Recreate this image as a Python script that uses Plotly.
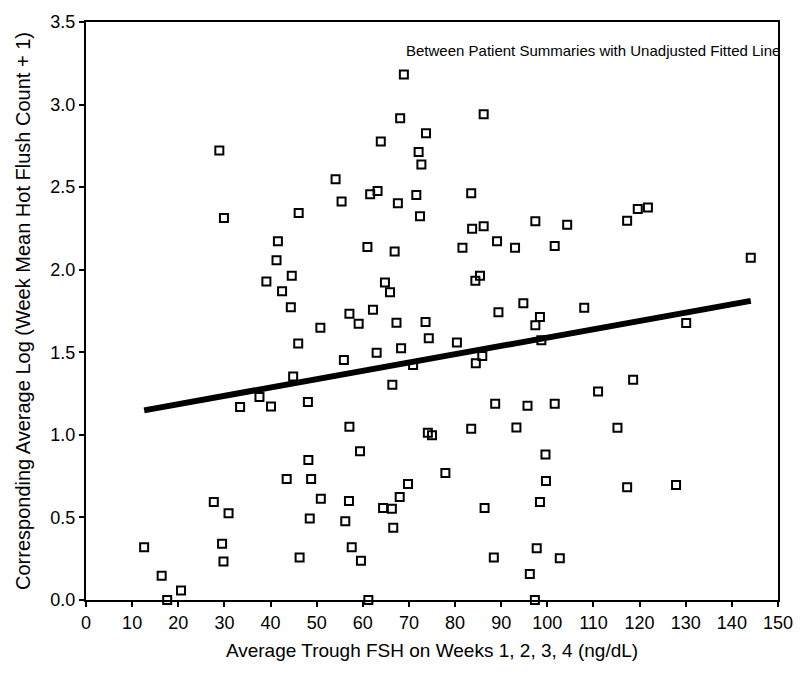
import plotly.graph_objects as go

# Per-patient summaries: average trough FSH (ng/dL) vs. average log hot flush count
fsh = [
    12.6, 16.4, 17.6, 20.6, 27.7, 29.5, 29.8, 30.9, 28.9, 29.9,
    33.4, 37.6, 40.1, 39.1, 41.6, 41.3, 42.5, 44.6, 44.4, 44.9,
    46.0, 46.1, 43.5, 46.3, 48.1, 48.2, 48.8, 48.5, 50.8, 50.9,
    54.1, 55.4, 55.9, 56.2, 57.0, 57.1, 57.1, 57.6, 59.1, 59.4,
    59.6, 61.6, 63.2, 61.0, 62.2, 63.0, 63.9, 64.8, 65.9, 66.9,
    67.6, 68.1, 68.9, 67.3, 68.3, 66.4, 64.4, 66.3, 66.6, 68.0,
    69.8, 61.2, 71.6, 72.1, 72.7, 72.4, 73.7, 73.6, 74.3, 74.1,
    75.0, 70.9, 77.9, 80.4, 81.6, 83.5, 83.7, 86.2, 84.4, 85.4,
    86.2, 84.5, 85.9, 83.5, 86.4, 88.7, 88.4, 89.1, 89.4, 93.0,
    93.3, 94.8, 95.7, 96.2, 97.3, 97.4, 98.4, 97.4, 98.7, 98.4,
    97.7, 99.6, 99.7, 101.6, 101.6, 102.7, 104.3, 108.0, 111.0, 115.2,
    117.3, 117.3, 119.6, 121.8, 118.6, 127.9, 130.1, 144.1,
]
log_flush = [
    0.320, 0.147, 0.000, 0.057, 0.593, 0.341, 0.233, 0.525, 2.722, 2.313,
    1.169, 1.229, 1.171, 1.929, 2.173, 2.057, 1.869, 1.963, 1.773, 1.353,
    1.553, 2.343, 0.733, 0.257, 1.199, 0.847, 0.733, 0.493, 1.649, 0.613,
    2.548, 2.413, 1.453, 0.477, 0.599, 1.049, 1.733, 0.319, 1.673, 0.901,
    0.237, 2.457, 2.477, 2.137, 1.758, 1.497, 2.776, 1.923, 1.863, 2.110,
    2.403, 2.917, 3.182, 1.679, 1.525, 1.303, 0.557, 0.553, 0.437, 0.623,
    0.703, 0.000, 2.453, 2.713, 2.637, 2.323, 2.827, 1.683, 1.585, 1.013,
    0.997, 1.423, 0.769, 1.559, 2.133, 2.463, 2.248, 2.263, 1.933, 1.963,
    2.942, 1.433, 1.477, 1.037, 0.557, 1.189, 0.257, 2.173, 1.743, 2.133,
    1.045, 1.797, 1.177, 0.157, 0.000, 2.293, 1.713, 1.663, 1.573, 0.593,
    0.313, 0.881, 0.721, 2.143, 1.189, 0.253, 2.273, 1.770, 1.263, 1.043,
    0.683, 2.297, 2.367, 2.377, 1.333, 0.697, 1.677, 2.073,
]

# Unadjusted fitted line: log_flush = intercept + slope * fsh
fit_intercept = 1.085
fit_slope = 0.00504
fit_x = [min(fsh), max(fsh)]
fit_y = [fit_intercept + fit_slope * v for v in fit_x]

x_ticks = list(range(0, 151, 10))
y_ticks = [0.0, 0.5, 1.0, 1.5, 2.0, 2.5, 3.0, 3.5]

FONT = "Liberation Sans, Arial, sans-serif"

fig = go.Figure()
fig.add_trace(go.Scatter(
    x=fsh, y=log_flush, mode="markers",
    marker=dict(symbol="square-open", size=8, color="black", line=dict(width=2, color="black")),
    cliponaxis=False, showlegend=False,
))
fig.add_trace(go.Scatter(
    x=fit_x, y=fit_y, mode="lines",
    line=dict(color="black", width=6),
    showlegend=False,
))

fig.add_annotation(
    x=150, y=3.33, xref="x", yref="y", xanchor="right", yanchor="middle", xshift=4,
    text="Between Patient Summaries with Unadjusted Fitted Line",
    showarrow=False, font=dict(family=FONT, size=15, color="black"),
)

axis_common = dict(
    showline=True, linecolor="black", linewidth=2, mirror=True,
    ticks="outside", ticklen=5, tickwidth=1.5, tickcolor="black",
    showgrid=False, zeroline=False,
    tickfont=dict(family=FONT, size=18, color="black"),
)

fig.update_layout(
    width=805, height=679,
    margin=dict(l=86, r=19, t=18, b=79),
    plot_bgcolor="white", paper_bgcolor="white",
    xaxis=dict(range=[0, 150], tickvals=x_ticks, ticktext=[str(v) for v in x_ticks],
               title=dict(text="Average Trough FSH on Weeks 1, 2, 3, 4 (ng/dL)", standoff=12,
                          font=dict(family=FONT, size=19, color="black")),
               **axis_common),
    yaxis=dict(range=[0, 3.5], tickvals=y_ticks, ticktext=[f"{v:.1f}" for v in y_ticks],
               title=dict(text="Corresponding Average Log (Week Mean Hot Flush Count + 1)", standoff=14,
                          font=dict(family=FONT, size=20, color="black")),
               **axis_common),
)

fig.write_html("out.html")
